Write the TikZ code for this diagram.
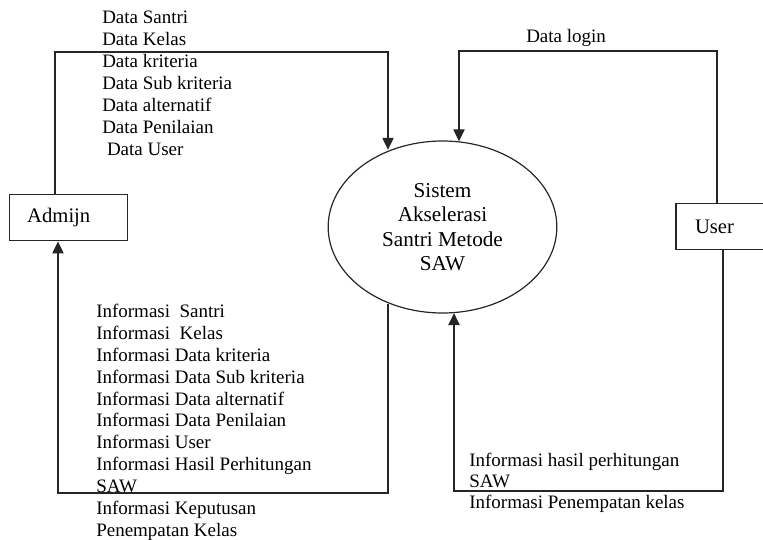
\documentclass[tikz,border=0pt]{standalone}
\usepackage{fontspec}
\setmainfont{Liberation Serif}
\usetikzlibrary{arrows.meta,shapes.geometric,calc}

\tikzstyle{arrow} = [line width=0.9pt,black!85,-{Triangle[length=9pt,width=8.5pt]}]
\tikzstyle{line} = [line width=0.9pt,black!85]
\tikzstyle{entity} = [draw=black!85,line width=0.9pt,rectangle,minimum height=35pt,align=left,inner ysep=0pt,font=\fontsize{15.5}{17}\selectfont]
\tikzstyle{flow} = [anchor=north west,inner sep=0pt,align=left,font=\fontsize{14.25}{16.4}\selectfont]

\begin{document}
\begin{tikzpicture}[x=0.75pt,y=-0.75pt]

\useasboundingbox (0,0) rectangle (763,539);
\clip (0,0) rectangle (763,539);

% Process
\node [draw=black!85,line width=0.9pt,ellipse,minimum width=171.5pt,minimum height=129pt,align=center,
  font=\fontsize{15.9}{18.4}\selectfont] (sys) at (442.5,227) {Sistem\\Akselerasi\\Santri Metode\\SAW};

% External entities
\node [entity,text width=62pt,inner xsep=13.5pt] (admin) at (68.5,217.5) {Admijn};
\node [entity,text width=42pt,inner xsep=14.25pt] (user) at (723,226.5) {User};

% Corners of the flows
\coordinate (a1) at (55,52);
\coordinate (a2) at (388,52);
\coordinate (b1) at (388,493);
\coordinate (b2) at (58,493);
\coordinate (c1) at (717,51);
\coordinate (c2) at (459,51);
\coordinate (d1) at (723,491);
\coordinate (d2) at (454,491);

% Admin -> sistem
\draw [arrow] (admin.north -| a1) -- (a1) -- (a2) -- (a2 |- sys.124.6);
\node [flow] (dataadmin) at (102,11) {Data Santri\\Data Kelas\\Data kriteria\\Data Sub kriteria\\Data alternatif\\Data Penilaian\\\ Data User};

% Sistem -> admin
\draw [arrow] (b1 |- sys.235) -- (b1) -- (b2) -- (b2 |- admin.south);
\node [flow] (infoadmin) at (96,304) {Informasi\ \ Santri\\Informasi\ \ Kelas\\Informasi Data kriteria\\Informasi Data Sub kriteria\\Informasi Data alternatif\\Informasi Data Penilaian\\Informasi User\\Informasi Hasil Perhitungan\\SAW\\Informasi Keputusan\\Penempatan Kelas};

% User -> sistem
\draw [arrow] (user.north -| c1) -- (c1) -- (c2) -- (c2 |- sys.79);
\node [flow] (login) at (526,29) {Data login};

% Sistem <-> user
\draw [arrow] (user.south -| d1) -- (d1) -- (d2) -- (d2 |- sys.278);
\node [flow,font=\fontsize{14.25}{15.8}\selectfont] (infouser) at (469,453) {Informasi hasil perhitungan\\SAW\\Informasi Penempatan kelas};

\end{tikzpicture}
\end{document}
